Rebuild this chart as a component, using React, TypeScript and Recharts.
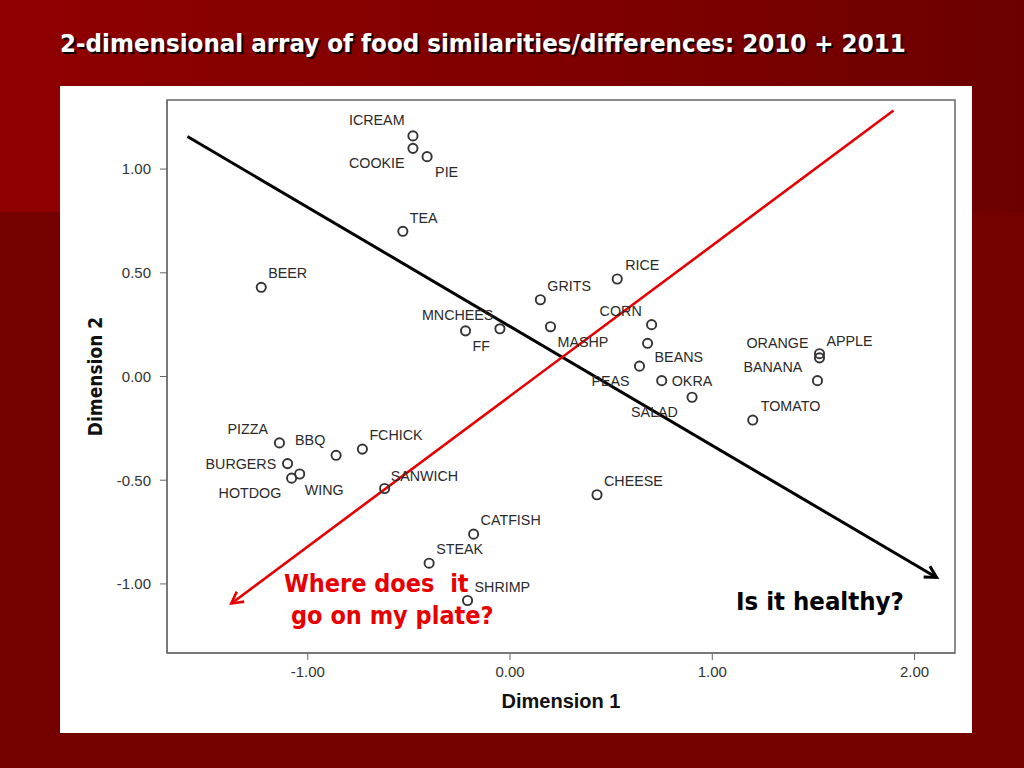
import React from "react";
import { ScatterChart, Scatter, XAxis, YAxis, ReferenceLine, ReferenceArea } from "recharts";

// food labels and their MDS coordinates
const foods = [
  "ICREAM", "COOKIE", "PIE", "TEA", "BEER", "GRITS", "RICE", "MNCHEES", "FF", "MASHP",
  "CORN", "BEANS", "PEAS", "OKRA", "SALAD", "ORANGE", "APPLE", "BANANA", "TOMATO", "CHEESE",
  "PIZZA", "BBQ", "FCHICK", "BURGERS", "HOTDOG", "WING", "SANWICH", "CATFISH", "STEAK", "SHRIMP",
];
const dim1 = [
  -0.48, -0.48, -0.41, -0.53, -1.23, 0.15, 0.53, -0.05, -0.22, 0.2,
  0.7, 0.68, 0.64, 0.75, 0.9, 1.53, 1.53, 1.52, 1.2, 0.43,
  -1.14, -0.86, -0.73, -1.1, -1.08, -1.04, -0.62, -0.18, -0.4, -0.21,
];
const dim2 = [
  1.16, 1.1, 1.06, 0.7, 0.43, 0.37, 0.47, 0.23, 0.22, 0.24,
  0.25, 0.16, 0.05, -0.02, -0.1, 0.09, 0.11, -0.02, -0.21, -0.57,
  -0.32, -0.38, -0.35, -0.42, -0.49, -0.47, -0.54, -0.76, -0.9, -1.08,
];

const xTicks = [-1, 0, 1, 2];
const yTicks = [-1, -0.5, 0, 0.5, 1];

// hand-drawn interpretation arrows (start, end) in data units
const healthyArrow = [{ x: -1.595, y: 1.157 }, { x: 2.109, y: -0.969 }];
const plateArrow = [{ x: 1.896, y: 1.282 }, { x: -1.378, y: -1.094 }];

const X_DOMAIN: [number, number] = [-1.696, 2.2];
const Y_DOMAIN: [number, number] = [-1.333, 1.333];

// where each label sits relative to its marker (px)
const labelOffset: Record<string, [number, number]> = {
  ICREAM: [-64, -16], COOKIE: [-64, 15], PIE: [8, 15], TEA: [7, -13], BEER: [7, -14],
  GRITS: [7, -14], RICE: [8, -14], MNCHEES: [-78, -14], FF: [7, 15], MASHP: [7, 15],
  CORN: [-52, -14], BEANS: [7, 14], PEAS: [-48, 15], OKRA: [10, 0], SALAD: [-61, 15],
  ORANGE: [-73, -15], APPLE: [7, -13], BANANA: [-74, -14], TOMATO: [8, -14], CHEESE: [7, -14],
  PIZZA: [-52, -14], BBQ: [-41, -15], FCHICK: [7, -14], BURGERS: [-82, 0], HOTDOG: [-73, 15],
  WING: [5, 16], SANWICH: [6, -13], CATFISH: [7, -14], STEAK: [7, -14], SHRIMP: [7, -14],
};

const points = foods.map((name, i) => ({ name, x: dim1[i], y: dim2[i] }));

const FoodPoint = (props: any) => {
  const { cx, cy, payload } = props;
  const [dx, dy] = labelOffset[payload.name] || [7, -14];
  return (
    <g>
      <circle cx={cx} cy={cy} r={4.6} fill="none" stroke="#333" strokeWidth={1.9} />
      <text
        x={cx + dx}
        y={cy + dy}
        dy="0.36em"
        fontSize={14.3}
        fontFamily="'Liberation Sans', Arial, sans-serif"
        fill="#2a2a2a"
      >
        {payload.name}
      </text>
    </g>
  );
};

const arrowShape = (color: string, width: number) => (props: any) => {
  const { x1, y1, x2, y2 } = props;
  const ang = Math.atan2(y2 - y1, x2 - x1);
  const len = 13;
  const spread = 0.5;
  const a = [x2 - len * Math.cos(ang - spread), y2 - len * Math.sin(ang - spread)];
  const b = [x2 - len * Math.cos(ang + spread), y2 - len * Math.sin(ang + spread)];
  return (
    <g>
      <line x1={x1} y1={y1} x2={x2} y2={y2} stroke={color} strokeWidth={width} />
      <polyline
        points={`${a[0]},${a[1]} ${x2},${y2} ${b[0]},${b[1]}`}
        fill="none"
        stroke={color}
        strokeWidth={width}
      />
    </g>
  );
};

const tickStyle = { fontSize: 15, fill: "#333", fontFamily: "'Liberation Sans', Arial, sans-serif" };
const noteFont = "'DejaVu Sans Condensed', 'DejaVu Sans', sans-serif";

export default function App() {
  return (
    <div
      style={{
        position: "absolute",
        left: 0,
        top: 0,
        width: 1024,
        height: 768,
        overflow: "hidden",
        background: "#740000",
      }}
    >
      <div
        style={{
          position: "absolute",
          left: 0,
          top: 0,
          width: 1024,
          height: 212,
          background: "linear-gradient(to right, #900000, #7e0000 60%, #6c0000)",
        }}
      />
      <div
        style={{
          position: "absolute",
          left: 60,
          top: 28,
          color: "#fff",
          fontFamily: noteFont,
          fontWeight: "bold",
          fontSize: 25.6,
          whiteSpace: "nowrap",
          textShadow: "2px 2px 1px #000",
        }}
      >
        2-dimensional array of food similarities/differences: 2010 + 2011
      </div>
      <div style={{ position: "absolute", left: 60, top: 86, width: 912, height: 647, background: "#fff" }}>
        <ScatterChart width={912} height={647} margin={{ top: 14, right: 17, bottom: 0, left: 0 }}>
          <XAxis
            type="number"
            dataKey="x"
            domain={X_DOMAIN}
            ticks={xTicks}
            allowDataOverflow
            tickFormatter={(v: number) => v.toFixed(2)}
            tick={tickStyle}
            tickSize={7}
            tickMargin={6}
            height={80}
            stroke="#666"
            label={{
              value: "Dimension 1",
              position: "insideBottom",
              offset: 25,
              style: { fontSize: 20, fontWeight: "bold", fill: "#111", fontFamily: "'Liberation Sans', Arial, sans-serif" },
            }}
          />
          <YAxis
            type="number"
            dataKey="y"
            domain={Y_DOMAIN}
            ticks={yTicks}
            allowDataOverflow
            tickFormatter={(v: number) => v.toFixed(2)}
            tick={tickStyle}
            tickSize={7}
            tickMargin={9}
            width={107}
            stroke="#666"
            label={{
              value: "Dimension 2",
              angle: -90,
              position: "insideLeft",
              offset: 35,
              style: { fontSize: 19, fontWeight: "bold", fill: "#111", textAnchor: "middle", fontFamily: noteFont },
            }}
          />
          <ReferenceArea
            x1={X_DOMAIN[0]}
            x2={X_DOMAIN[1]}
            y1={Y_DOMAIN[0]}
            y2={Y_DOMAIN[1]}
            fill="none"
            stroke="#666"
            strokeWidth={1.5}
            ifOverflow="visible"
          />
          <ReferenceLine segment={healthyArrow} shape={arrowShape("#000", 3)} ifOverflow="visible" />
          <ReferenceLine segment={plateArrow} shape={arrowShape("#e60000", 2.6)} ifOverflow="visible" />
          <Scatter data={points} shape={<FoodPoint />} isAnimationActive={false} />
        </ScatterChart>
      </div>
      <div
        style={{
          position: "absolute",
          left: 284,
          top: 568,
          color: "#e80000",
          fontFamily: noteFont,
          fontWeight: "bold",
          fontSize: 25,
          lineHeight: "32px",
          whiteSpace: "nowrap",
        }}
      >
        Where does&nbsp; it
      </div>
      <div
        style={{
          position: "absolute",
          left: 291,
          top: 600,
          color: "#e80000",
          fontFamily: noteFont,
          fontWeight: "bold",
          fontSize: 25,
          lineHeight: "32px",
          whiteSpace: "nowrap",
        }}
      >
        go on my plate?
      </div>
      <div
        style={{
          position: "absolute",
          left: 736,
          top: 586,
          color: "#000",
          fontFamily: noteFont,
          fontWeight: "bold",
          fontSize: 25.5,
          whiteSpace: "nowrap",
        }}
      >
        Is it healthy?
      </div>
    </div>
  );
}
